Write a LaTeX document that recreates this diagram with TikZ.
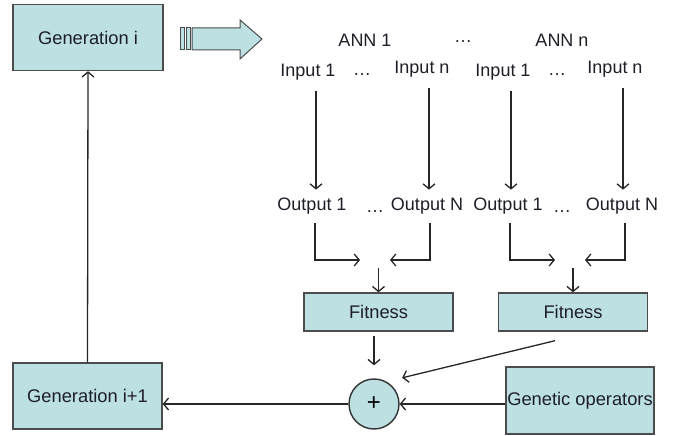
\documentclass[tikz,border=0pt]{standalone}
\usepackage{fontspec}
\setmainfont{Liberation Sans}
\usepackage{xcolor}
\usetikzlibrary{positioning,arrows.meta}
\definecolor{gacyan}{RGB}{189,224,227}
\definecolor{gaink}{RGB}{30,30,40}
\tikzset{
    gabox/.style={draw=black!70, line width=1.4pt, fill=gacyan, align=center, inner sep=0pt, font=\fontsize{18.3}{21}\selectfont, text=gaink},
    gafit/.style={gabox, minimum width=149pt, minimum height=38pt},
    gasum/.style={draw=black!80, line width=1.4pt, fill=gacyan, circle, minimum size=50pt, inner sep=0pt, font=\fontsize{24}{26}\selectfont},
    galabel/.style={inner sep=0pt, font=\fontsize{18}{21}\selectfont, text=gaink},
    gaarrow/.style={draw=black!85, -{Straight Barb[length=5pt,width=12pt]}, line width=1.3pt},
    gastripe/.style={draw=black!70, line width=1pt, fill=gacyan}
}

\begin{document}
\begin{tikzpicture}[x=1pt, y=-1pt]
    \useasboundingbox (0,0) rectangle (673,436);
    \node[gabox, minimum width=150pt, minimum height=66pt] (geni) at (88,37.5) {Generation i};
    \node[gabox, minimum width=149pt, minimum height=66pt] (genip) at (87.5,396) {Generation i+1};
    \node[gafit] (fit1) at (378.5,312) {Fitness};
    \node[gafit] (fit2) at (573,312) {Fitness};
    \node[gabox, minimum width=148pt, minimum height=67pt] (genop) at (580,400.5) {Genetic operators};
    \node[gasum] (sum) at (374,404) {+};

    % block arrow towards the networks
    \draw[gastripe] (180,28) rectangle (184,50);
    \draw[gastripe] (186,28) rectangle (190,50);
    \draw[gastripe] (192,28) -- (240,28) -- (240,20) -- (262,39) -- (240,59) -- (240,50) -- (192,50) -- cycle;

    \node[galabel] (ann1) at (365,40) {ANN 1};
    \node[galabel] (anndots) at (463,42) {\dots};
    \node[galabel] (annn) at (562,40) {ANN n};

    \node[galabel] (in11) at (308,72) {Input 1};
    \node[galabel] (indots1) at (362,75) {\dots};
    \node[galabel] (in1n) at (422,69) {Input n};
    \node[galabel] (in21) at (503,72) {Input 1};
    \node[galabel] (indots2) at (557,75) {\dots};
    \node[galabel] (in2n) at (615,69) {Input n};

    \node[galabel] (out11) at (312,206) {Output 1};
    \node[galabel] (outdots1) at (375,212) {\dots};
    \node[galabel] (out1n) at (427,206) {Output N};
    \node[galabel] (out21) at (508,206) {Output 1};
    \node[galabel] (outdots2) at (562,212) {\dots};
    \node[galabel] (out2n) at (622,206) {Output N};

    \coordinate (c1) at (316,0);
    \coordinate (c2) at (429,0);
    \coordinate (c3) at (511,0);
    \coordinate (c4) at (623,0);
    \coordinate (j1) at (375,260);
    \coordinate (j2) at (570,260);

    \draw[gaarrow] (in11.south -| c1) ++(0,11) -- ([yshift=8pt]out11.north -| c1);
    \draw[gaarrow] (in1n.south -| c2) ++(0,11) -- ([yshift=8pt]out1n.north -| c2);
    \draw[gaarrow] (in21.south -| c3) ++(0,11) -- ([yshift=8pt]out21.north -| c3);
    \draw[gaarrow] (in2n.south -| c4) ++(0,11) -- ([yshift=8pt]out2n.north -| c4);

    \draw[gaarrow] ([xshift=3pt,yshift=-9pt]out11.south) |- ([xshift=-15pt]j1);
    \draw[gaarrow] ([xshift=3pt,yshift=-9pt]out1n.south) |- ([xshift=15pt]j1);
    \draw[gaarrow] ([yshift=-8pt]fit1.north |- j1) -- (fit1.north);
    \draw[gaarrow] ([xshift=2pt,yshift=-9pt]out21.south) |- ([xshift=-15pt]j2);
    \draw[gaarrow] ([xshift=3pt,yshift=-9pt]out2n.south) |- ([xshift=15pt]j2);
    \draw[gaarrow] ([yshift=-8pt]fit2.north |- j2) -- (fit2.north);

    \draw[gaarrow] ([yshift=-4pt]fit1.south -| sum.north) -- ([yshift=13pt]sum.north);
    \draw[gaarrow] ([xshift=-18pt,yshift=-9pt]fit2.south) -- ([shift={(10pt,8pt)}]sum.45);
    \draw[gaarrow] (genop.west |- sum.east) -- (sum.east);
    \draw[gaarrow] (sum.west) -- (sum.west -| genip.east);
    \draw[gaarrow] (genip.north) -- (geni.south);
\end{tikzpicture}
\end{document}
